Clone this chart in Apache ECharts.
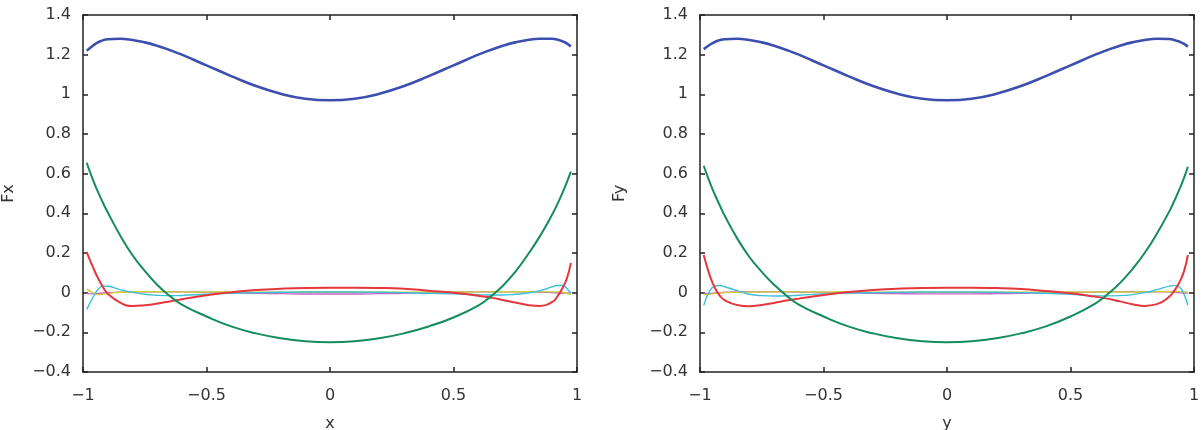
<!DOCTYPE html>
<html>
<head>
<meta charset="utf-8">
<script src="https://cdn.jsdelivr.net/npm/echarts@6/dist/echarts.min.js"></script>
<style>
  html, body { margin: 0; padding: 0; background: #fff; }
  #main { width: 1203px; height: 430px; }
</style>
</head>
<body>
<div id="main"></div>
<script>
// sample positions along the axis (shared by both panels)
const xs = [-0.985, -0.96, -0.94, -0.92, -0.9, -0.85, -0.8, -0.75, -0.7, -0.65, -0.6, -0.5, -0.4, -0.3, -0.2, -0.1, 0,
  0.1, 0.2, 0.3, 0.4, 0.5, 0.6, 0.65, 0.7, 0.75, 0.8, 0.85, 0.9, 0.92, 0.94, 0.96, 0.975]

// Fx panel
const fxBlue = [1.22, 1.245, 1.262, 1.272, 1.278, 1.28, 1.274, 1.262, 1.245, 1.224, 1.2, 1.146, 1.092, 1.042, 1.003, 0.978, 0.97,
  0.978, 1.003, 1.042, 1.092, 1.146, 1.2, 1.224, 1.245, 1.262, 1.274, 1.28, 1.28, 1.276, 1.268, 1.256, 1.24]
const fxGreen = [0.655, 0.57, 0.51, 0.455, 0.405, 0.29, 0.19, 0.11, 0.04, -0.015, -0.06, -0.12, -0.17, -0.205, -0.23, -0.245, -0.25,
  -0.245, -0.23, -0.205, -0.17, -0.125, -0.065, -0.02, 0.035, 0.105, 0.19, 0.285, 0.395, 0.445, 0.5, 0.56, 0.61]
const fxRed = [0.205, 0.13, 0.075, 0.03, -0.005, -0.05, -0.067, -0.063, -0.055, -0.044, -0.033, -0.013, 0.002, 0.013, 0.02, 0.024, 0.025,
  0.025, 0.024, 0.02, 0.01, 0, -0.015, -0.025, -0.037, -0.05, -0.062, -0.067, -0.047, -0.02, 0.02, 0.075, 0.15]
const fxCyan = [-0.085, -0.025, 0.015, 0.033, 0.032, 0.015, 0.002, -0.008, -0.013, -0.015, -0.014, -0.008, -0.003, 0, 0.002, 0.003, 0.003,
  0.003, 0.002, 0, -0.003, -0.006, -0.01, -0.012, -0.012, -0.008, -0.002, 0.01, 0.03, 0.036, 0.036, 0.02, -0.005]
const fxYellow = [0.018, 0, -0.01, -0.008, -0.004, 0.002, 0.004, 0.005, 0.005, 0.004, 0.004, 0.003, 0.003, 0.002, 0.002, 0.002, 0.002,
  0.002, 0.002, 0.002, 0.003, 0.003, 0.004, 0.004, 0.005, 0.005, 0.005, 0.004, 0.004, 0.004, 0.002, -0.004, -0.01]
const fxMagenta = [-0.005, -0.006, -0.004, -0.002, 0, 0.002, 0.004, 0.005, 0.005, 0.005, 0.004, 0.002, 0, -0.003, -0.005, -0.007, -0.007,
  -0.007, -0.005, -0.003, 0, 0.002, 0.004, 0.005, 0.005, 0.005, 0.004, 0.002, 0, -0.002, -0.003, -0.002, 0]

// Fy panel
const fyBlue = [1.228, 1.25, 1.264, 1.273, 1.278, 1.28, 1.274, 1.262, 1.245, 1.224, 1.2, 1.146, 1.092, 1.042, 1.003, 0.978, 0.97,
  0.978, 1.003, 1.042, 1.092, 1.146, 1.2, 1.224, 1.245, 1.262, 1.274, 1.28, 1.279, 1.274, 1.266, 1.254, 1.24]
const fyGreen = [0.64, 0.555, 0.495, 0.44, 0.388, 0.275, 0.18, 0.105, 0.04, -0.015, -0.06, -0.12, -0.17, -0.205, -0.23, -0.245, -0.25,
  -0.245, -0.23, -0.205, -0.17, -0.12, -0.055, -0.008, 0.048, 0.118, 0.2, 0.298, 0.41, 0.462, 0.518, 0.58, 0.635]
const fyRed = [0.19, 0.085, 0.025, -0.015, -0.038, -0.062, -0.068, -0.062, -0.052, -0.04, -0.03, -0.012, 0.003, 0.013, 0.02, 0.024, 0.025,
  0.025, 0.023, 0.018, 0.008, -0.003, -0.02, -0.03, -0.044, -0.058, -0.067, -0.058, -0.02, 0.01, 0.05, 0.11, 0.19]
const fyCyan = [-0.064, 0.01, 0.033, 0.036, 0.03, 0.01, -0.008, -0.015, -0.017, -0.016, -0.013, -0.006, -0.002, 0, 0.002, 0.003, 0.003,
  0.003, 0.002, 0, -0.003, -0.008, -0.015, -0.016, -0.015, -0.01, 0, 0.015, 0.033, 0.037, 0.03, -0.01, -0.064]
const fyYellow = [-0.01, -0.008, -0.005, -0.002, 0, 0.002, 0.003, 0.004, 0.004, 0.004, 0.004, 0.003, 0.003, 0.002, 0.002, 0.002, 0.002,
  0.002, 0.002, 0.002, 0.003, 0.003, 0.003, 0.003, 0.003, 0.003, 0.004, 0.005, 0.006, 0.006, 0.005, 0.004, 0.003]
const fyMagenta = [-0.004, -0.004, -0.002, 0, 0.002, 0.004, 0.005, 0.005, 0.005, 0.004, 0.003, 0.001, -0.001, -0.003, -0.005, -0.006, -0.006,
  -0.006, -0.005, -0.003, -0.001, 0.001, 0.003, 0.004, 0.004, 0.005, 0.005, 0.005, 0.004, 0.002, 0, -0.002, -0.002]

const xTicks = { min: -1, max: 1, interval: 0.5 }
const yTicks = { min: -0.4, max: 1.4, interval: 0.2 }
const axisNames = [['x', 'Fx'], ['y', 'Fy']]

const colors = ['#3d4fae', '#148c5c', '#e5373d', '#3dbfd6', '#cbd03c', '#cc62c4']
const widths = [2.6, 2, 2, 1.4, 1.4, 1.4]

const panels = [
  [fxBlue, fxGreen, fxRed, fxCyan, fxYellow, fxMagenta],
  [fyBlue, fyGreen, fyRed, fyCyan, fyYellow, fyMagenta]
]

const fmt = v => String(Math.round(v * 10) / 10).replace('-', '\u2212')
const textStyle = { color: '#333', fontSize: 16, fontFamily: 'DejaVu Sans' }
const lineStyle = { color: '#222', width: 1.5 }

let grid = [
  { left: 83, right: 626, top: 15, bottom: 58, outerBoundsMode: 'none' },
  { left: 700, right: 9, top: 15, bottom: 58, outerBoundsMode: 'none' }
]
let xAxis = []
let yAxis = []
let series = []

panels.forEach((curves, p) => {
  // bottom axis with labels, top axis only for the frame ticks
  xAxis.push({
    type: 'value', gridIndex: p, position: 'bottom', ...xTicks,
    name: axisNames[p][0], nameLocation: 'middle', nameGap: 44,
    nameTextStyle: textStyle,
    axisLine: { show: true, onZero: false, lineStyle },
    axisTick: { show: true, inside: true, length: 5, lineStyle },
    axisLabel: { ...textStyle, margin: 16, formatter: fmt },
    splitLine: { show: false }
  })
  xAxis.push({
    type: 'value', gridIndex: p, position: 'top', ...xTicks,
    axisLine: { show: true, onZero: false, lineStyle },
    axisTick: { show: true, inside: true, length: 5, lineStyle },
    axisLabel: { show: false },
    splitLine: { show: false }
  })
  yAxis.push({
    type: 'value', gridIndex: p, position: 'left', ...yTicks,
    name: axisNames[p][1], nameLocation: 'middle', nameGap: p === 0 ? 66 : 72, nameRotate: 90,
    nameTextStyle: textStyle,
    axisLine: { show: true, onZero: false, lineStyle },
    axisTick: { show: true, inside: true, length: 5, lineStyle },
    axisLabel: { ...textStyle, margin: 12, formatter: fmt },
    splitLine: { show: false }
  })
  yAxis.push({
    type: 'value', gridIndex: p, position: 'right', ...yTicks,
    axisLine: { show: true, onZero: false, lineStyle },
    axisTick: { show: true, inside: true, length: 5, lineStyle },
    axisLabel: { show: false },
    splitLine: { show: false }
  })
  curves.forEach((vals, i) => {
    series.push({
      type: 'line',
      xAxisIndex: p * 2,
      yAxisIndex: p * 2,
      data: xs.map((x, k) => [x, vals[k]]),
      showSymbol: false,
      smooth: 0.5,
      lineStyle: { color: colors[i], width: widths[i] },
      itemStyle: { color: colors[i] },
      z: 2 + (i === 0 ? 0 : 6 - i)
    })
  })
})

const myChart = echarts.init(document.getElementById('main'))
myChart.setOption({
  animation: false,
  backgroundColor: '#fff',
  grid,
  xAxis,
  yAxis,
  series
})
</script>
</body>
</html>
